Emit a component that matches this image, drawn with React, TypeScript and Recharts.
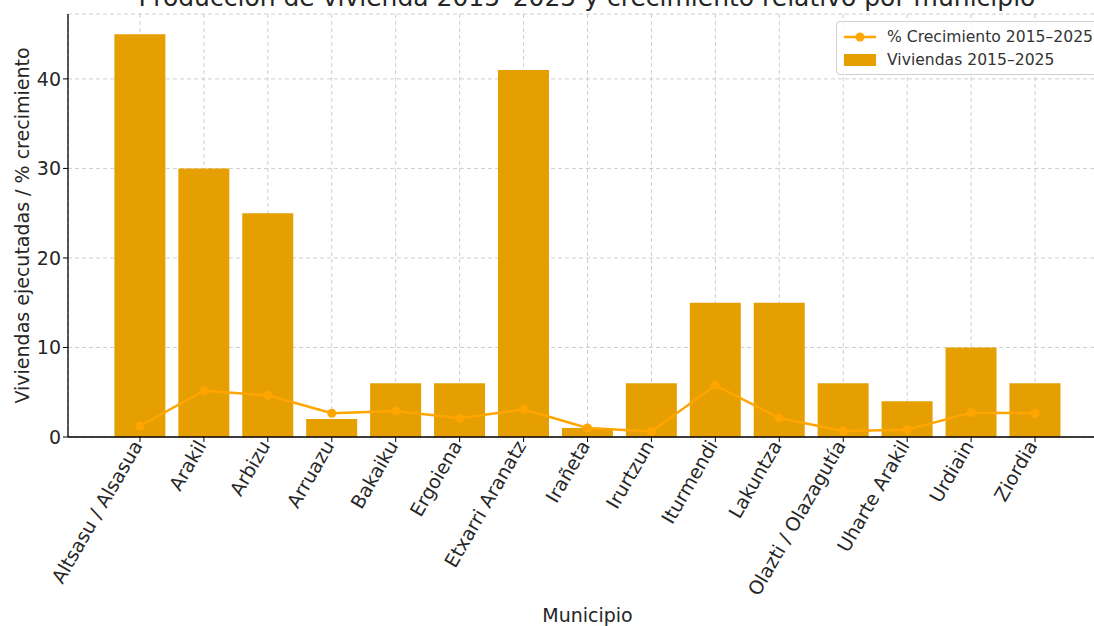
import React from "react";
import { ComposedChart, Bar, Line, XAxis, YAxis, CartesianGrid } from "recharts";

const municipios = [
  "Altsasu / Alsasua", "Arakil", "Arbizu", "Arruazu", "Bakaiku", "Ergoiena",
  "Etxarri Aranatz", "Irañeta", "Irurtzun", "Iturmendi", "Lakuntza",
  "Olazti / Olazagutía", "Uharte Arakil", "Urdiain", "Ziordia",
];
const viviendas = [45, 30, 25, 2, 6, 6, 41, 1, 6, 15, 15, 6, 4, 10, 6];
const crecimiento = [1.23, 5.17, 4.66, 2.65, 2.9, 2.09, 3.09, 1.0, 0.62, 5.77, 2.12, 0.67, 0.82, 2.72, 2.65];
const yTicks = [0, 10, 20, 30, 40];

const data = municipios.map((m, i) => ({ m, v: viviendas[i], c: crecimiento[i] }));

const FONT = "'DejaVu Sans', sans-serif";
const BAR = "#E69F00";
const LINE = "#FFA500";
const TXT = "#262626";

const XTick = (props: any) => {
  const { x, y, payload } = props;
  return (
    <g transform={`translate(${x - 3},${y - 2}) rotate(-60)`}>
      <text x={0} y={0} dy={7} textAnchor="end" fontSize={19} fill={TXT} fontFamily={FONT}>
        {payload.value}
      </text>
    </g>
  );
};

export default function App() {
  return (
    <div style={{ position: "absolute", left: 0, top: 0, width: 1094, height: 626, overflow: "hidden", background: "#fff" }}>
      <div style={{ position: "absolute", left: 0, top: 0 }}>
        <ComposedChart
          width={1120}
          height={626}
          data={data}
          margin={{ top: 14, right: 13, left: 8, bottom: 0 }}
          barCategoryGap="10%"
        >
          <XAxis
            dataKey="m"
            interval={0}
            tick={<XTick />}
            height={189}
            padding={{ left: 40, right: 40 }}
            axisLine={{ stroke: "#000", strokeWidth: 1.3 }}
            tickLine={{ stroke: "#000" }}
            tickSize={5}
            label={{ value: "Municipio", position: "insideBottom", offset: 4, fontSize: 19, fill: TXT, fontFamily: FONT }}
          />
          <YAxis
            domain={[0, 47.25]}
            ticks={yTicks}
            width={60}
            axisLine={{ stroke: "#000", strokeWidth: 1.3 }}
            tickLine={{ stroke: "#000" }}
            tickSize={5}
            tick={{ fontSize: 19, fill: TXT, fontFamily: FONT }}
            label={{
              value: "Viviendas ejecutadas / % crecimiento", angle: -90, position: "insideLeft",
              offset: 14, style: { textAnchor: "middle" }, fontSize: 19, fill: TXT, fontFamily: FONT,
            }}
          />
          <Bar dataKey="v" fill={BAR} isAnimationActive={false} />
          <CartesianGrid strokeDasharray="4 3" stroke="#c8c8c8" strokeWidth={0.9} />
          <Line
            dataKey="c"
            stroke={LINE}
            strokeWidth={2.5}
            dot={{ r: 4.5, fill: LINE, stroke: LINE, strokeWidth: 0 }}
            isAnimationActive={false}
          />
        </ComposedChart>
      </div>
      <div style={{
        position: "absolute", left: 67, width: 1040, top: -17, textAlign: "center",
        fontFamily: FONT, fontSize: 25, color: TXT, whiteSpace: "nowrap",
      }}>
        Producción de vivienda 2015–2025 y crecimiento relativo por municipio
      </div>
      <div style={{
        position: "absolute", left: 836, top: 21, width: 290, boxSizing: "border-box",
        border: "1px solid #d0d0d0", borderRadius: 4, background: "rgba(255,255,255,0.85)",
        padding: "3px 8px 3px 6px", fontFamily: FONT, fontSize: 15.6, color: "#333",
      }}>
        <div style={{ display: "flex", alignItems: "center", height: 23 }}>
          <svg width={34} height={14} style={{ marginRight: 10 }}>
            <line x1={1} y1={7} x2={33} y2={7} stroke={LINE} strokeWidth={2.5} />
            <circle cx={17} cy={7} r={4.5} fill={LINE} />
          </svg>
          <span>% Crecimiento 2015–2025</span>
        </div>
        <div style={{ display: "flex", alignItems: "center", height: 23 }}>
          <svg width={34} height={14} style={{ marginRight: 10 }}>
            <rect x={1} y={1} width={32} height={12} fill={BAR} />
          </svg>
          <span>Viviendas 2015–2025</span>
        </div>
      </div>
    </div>
  );
}
